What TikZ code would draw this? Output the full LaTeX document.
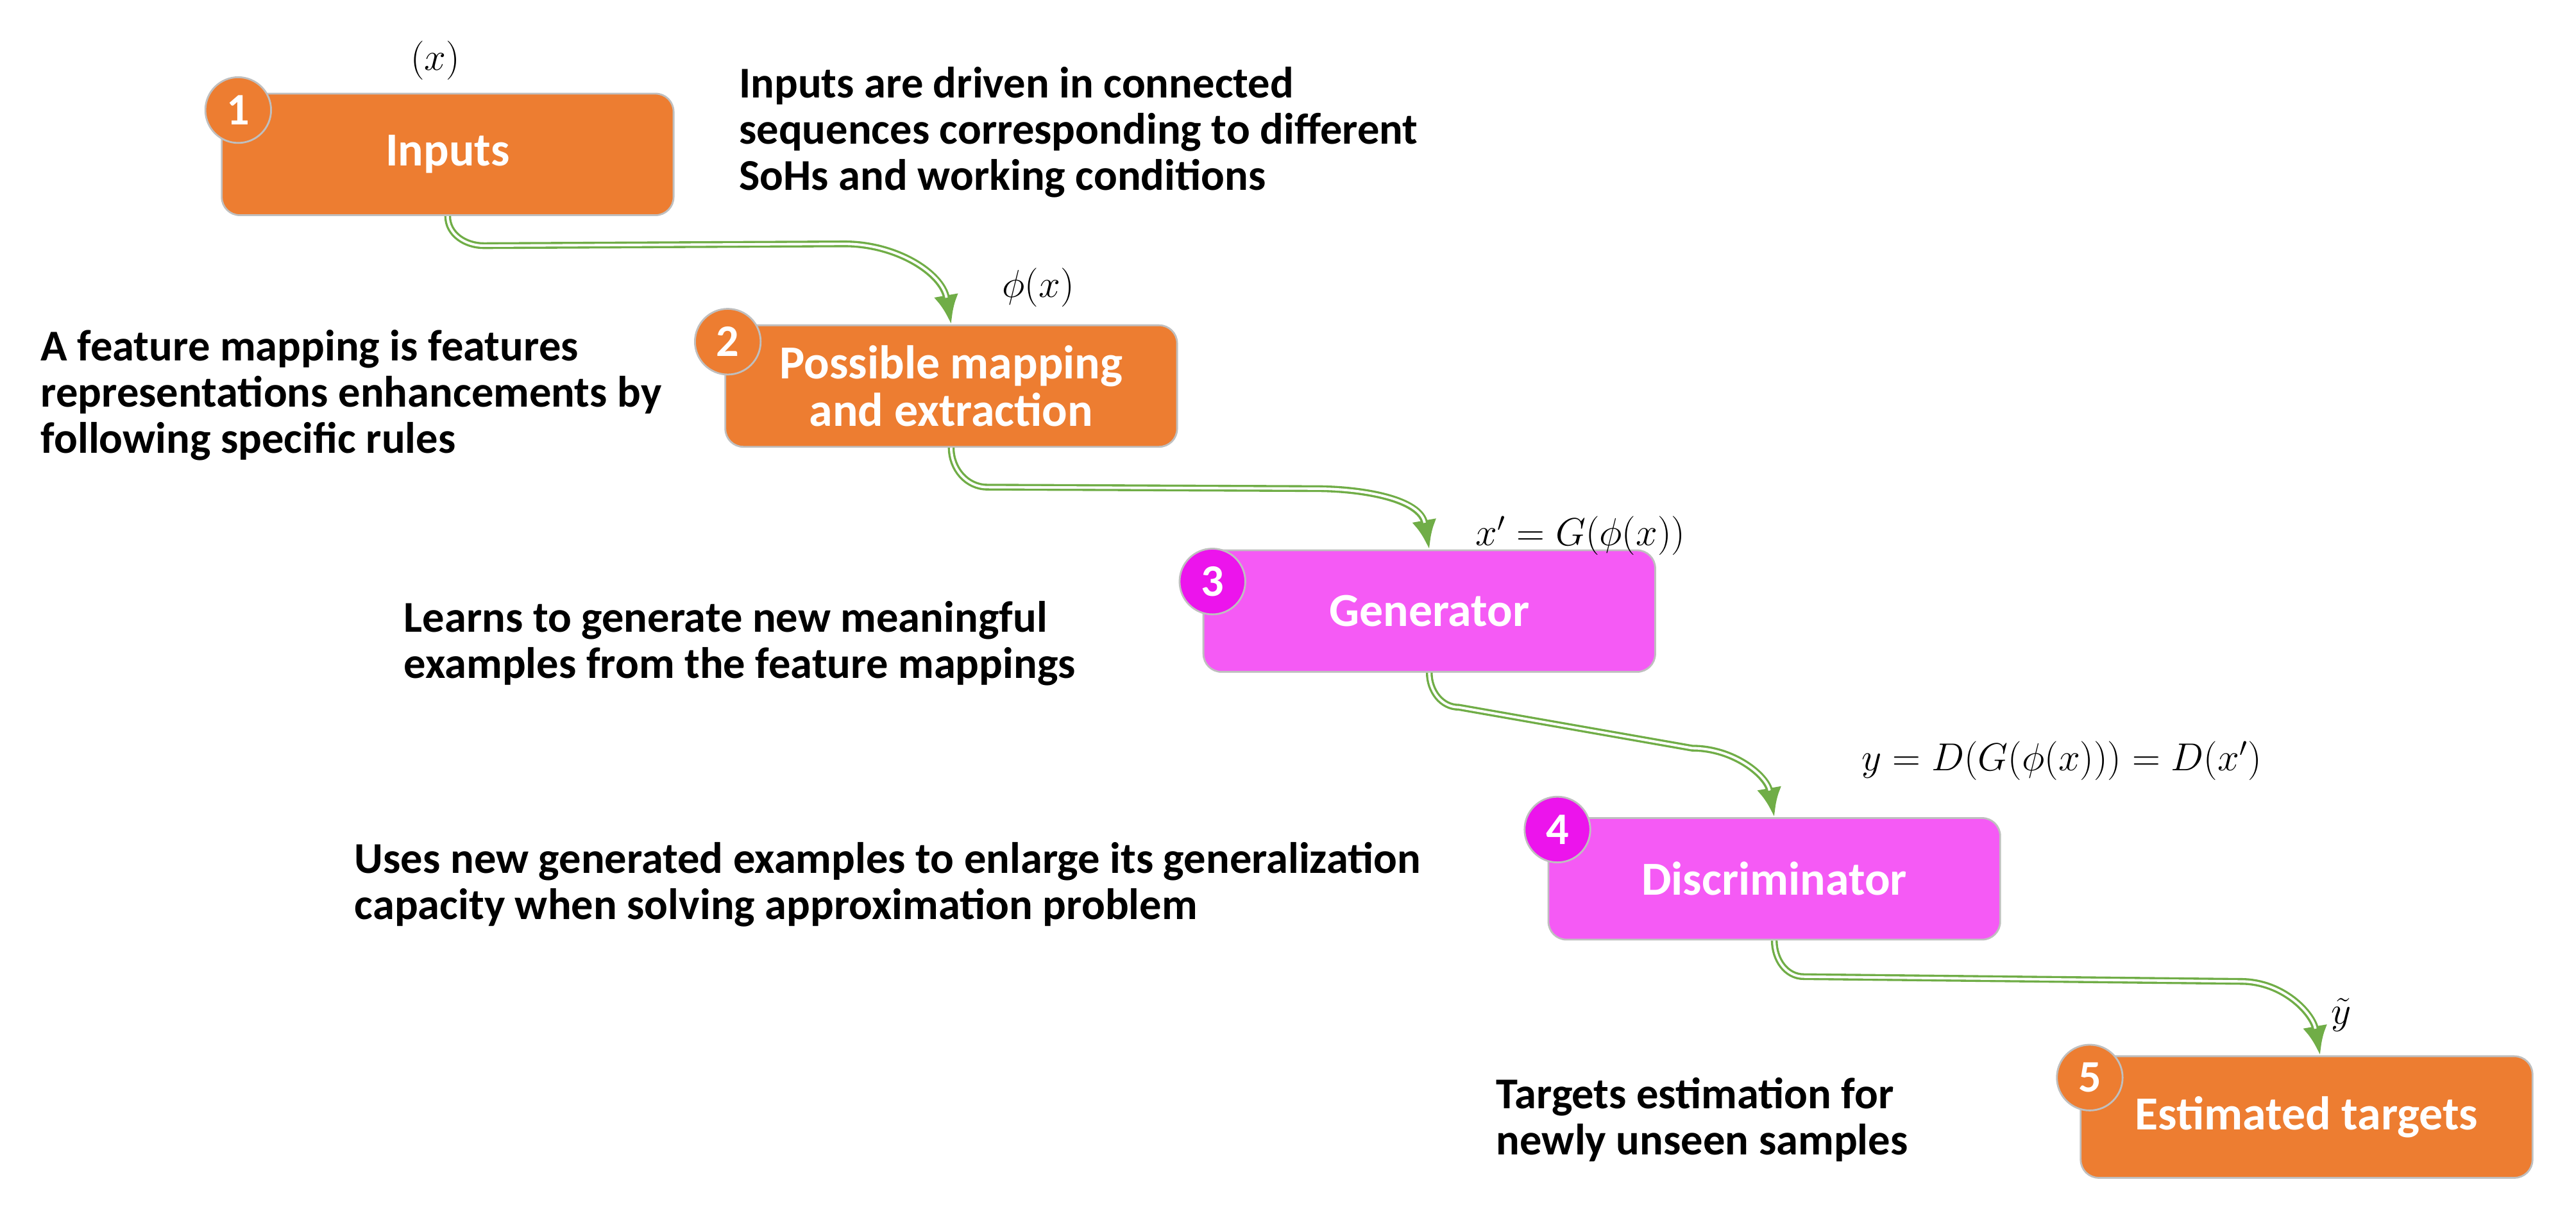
\documentclass[tikz,border=0pt]{standalone}
\usepackage{fontspec}
\setmainfont{Carlito}
\newfontfamily\timesfont{Liberation Serif}
\usetikzlibrary{arrows.meta, calc, positioning}
\definecolor{boxorange}{HTML}{ED7D31}
\definecolor{boxpink}{HTML}{F55AF5}
\definecolor{badgepink}{HTML}{EC14EC}
\definecolor{flowgreen}{HTML}{70AD47}
\begin{document}
\begin{tikzpicture}
        [x=0.02561cm, y=-0.02561cm,
        block/.style ={rectangle, rounded corners=8pt, draw=black!25, thick,
        minimum width=275*0.02561cm, minimum height=74*0.02561cm,
        text=white, font=\fontsize{21}{21}\selectfont\bfseries, align=center},
        badge/.style ={circle, draw=black!25, thick, minimum size=40*0.02561cm,
        inner sep=0pt, text=white, font=\fontsize{20}{24}\selectfont\bfseries},
        note/.style ={anchor=north west, align=left,
        font=\fontsize{19.5}{20.5}\selectfont\bfseries},
        formula/.style ={font=\fontsize{17}{20}\selectfont\timesfont},
        flow/.style ={draw=flowgreen, line width=3pt,
        -{Latex[length=13pt,width=11pt]},
        postaction={draw=white, line width=1.1pt, shorten >=12pt, -}}]
        \useasboundingbox (0,0) rectangle (1568,740);
        % blocks
        \node [block, fill=boxorange] (inputs) at (272.5,94) {Inputs};
        \node [block, fill=boxorange] (mapping) at (579,235) {Possible mapping\\and extraction};
        \node [block, fill=boxpink] (generator) at (870,372) {Generator};
        \node [block, fill=boxpink] (discriminator) at (1080,535) {Discriminator};
        \node [block, fill=boxorange] (targets) at (1404,680) {Estimated targets};
        % badges
        \node [badge, fill=boxorange] (n1) at (145,67) {1};
        \node [badge, fill=boxorange] (n2) at (443,208) {2};
        \node [badge, fill=badgepink] (n3) at (738,354) {3};
        \node [badge, fill=badgepink] (n4) at (948,505) {4};
        \node [badge, fill=boxorange] (n5) at (1272,656) {5};
        % formulas
        \node [formula] (fx) at (265,37) {$(x)$};
        \node [formula] (fphi) at (632,175) {$\phi(x)$};
        \node [formula] (fgen) at (962,326) {$x' = G(\phi(x))$};
        \node [formula] (fdis) at (1255,463) {$y = D(G(\phi(x))) = D(x')$};
        \node [formula] (fy) at (1425,618) {$\tilde{y}$};
        % notes
        \node [note] (t1) at (445,36) {Inputs are driven in connected\\sequences corresponding to different\\SoHs and working conditions};
        \node [note] (t2) at (20,196) {A feature mapping is features\\representations enhancements by\\following specific rules};
        \node [note] (t3) at (241,361) {Learns to generate new meaningful\\examples from the feature mappings};
        \node [note] (t4) at (211,508) {Uses new generated examples to enlarge its generalization\\capacity when solving approximation problem};
        \node [note] (t5) at (906,651) {Targets estimation for\\newly unseen samples};
        % connectors
        \path [flow] (inputs.south) to[out=-90,in=180,looseness=1] ++(22,18)
            -- ($(mapping.north)+(-65,-49)$) to[out=0,in=100] (mapping.north);
        \path [flow] (mapping.south) to[out=-90,in=180,looseness=1] ++(22,24)
            -- ($(generator.north)+(-70,-37)$) to[out=0,in=100] (generator.north);
        \path [flow] (generator.south) to[out=-90,in=180,looseness=1] ++(18,21)
            -- ($(discriminator.north)+(-50,-42)$) to[out=0,in=100] (discriminator.north);
        \path [flow] (discriminator.south) to[out=-90,in=180,looseness=1] ++(18,22)
            -- ($(targets.north)+(-40,-45)$) to[out=0,in=100] ([xshift=6]targets.north);
\end{tikzpicture}
\end{document}
